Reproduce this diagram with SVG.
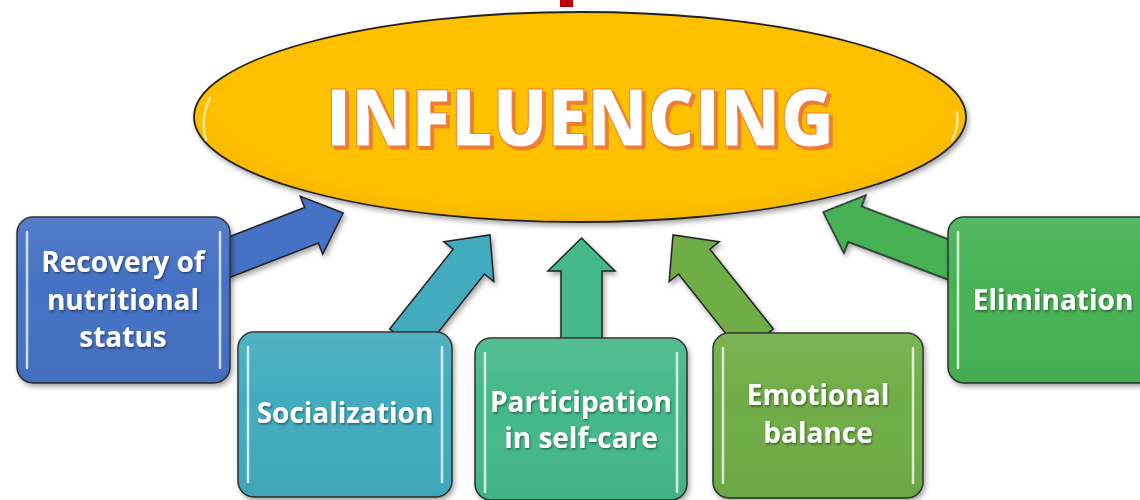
<svg xmlns="http://www.w3.org/2000/svg" width="1140" height="500" viewBox="0 0 1140 500">
  <defs>
    <filter id="sh" x="-10%" y="-10%" width="130%" height="130%">
      <feDropShadow dx="2" dy="3" stdDeviation="2.5" flood-color="#000" flood-opacity="0.35"/>
    </filter>
    <filter id="tsh" x="-10%" y="-20%" width="130%" height="150%">
      <feDropShadow dx="1" dy="1.5" stdDeviation="1" flood-color="#000" flood-opacity="0.45"/>
    </filter>
    <filter id="osh" x="-5%" y="-10%" width="115%" height="130%">
      <feDropShadow dx="3" dy="3" stdDeviation="0.6" flood-color="#ED7D31" flood-opacity="1"/>
    </filter>
    <linearGradient id="gloss" x1="0" y1="0" x2="0" y2="1">
      <stop offset="0" stop-color="#fff" stop-opacity="0.08"/>
      <stop offset="0.4" stop-color="#fff" stop-opacity="0"/>
      <stop offset="1" stop-color="#000" stop-opacity="0.04"/>
    </linearGradient>
    <radialGradient id="ellg" cx="0.5" cy="0.45" r="0.55">
      <stop offset="0.85" stop-color="#FFC000"/>
      <stop offset="1" stop-color="#F7B800"/>
    </radialGradient>
  </defs>
  <style>
    .box { stroke: #2b2b2b; stroke-width: 1.5; }
    .arr { stroke: #222; stroke-width: 1.5; stroke-linejoin: miter; }
    .hl { stroke: #ffffff; stroke-opacity: 0.75; stroke-width: 2.5; stroke-linecap: round; fill: none; }
    .lbl { font-family: "Open Sans", "Liberation Sans", sans-serif; font-weight: bold; font-size: 28px; fill: #ffffff; text-anchor: middle; }
    .title { font-family: "Open Sans", "Liberation Sans", sans-serif; font-weight: 800; font-size: 80px; text-anchor: middle; }
  </style>

  <rect x="0" y="0" width="1140" height="500" fill="#ffffff"/>

  <!-- small red mark at top -->
  <rect x="560" y="0" width="13" height="7" fill="#C00000"/>

  <!-- connectors -->
  <g id="connectors" filter="url(#sh)">
    <polygon class="arr" fill="#4472C4" points="0,-19 96,-19 96,-31 130,0 96,31 96,19 0,19" transform="translate(222,260) rotate(-21.2)"/>
    <polygon class="arr" fill="#43ACBE" points="0,-20 102,-20 102,-32 136,0 102,32 102,20 0,20" transform="translate(405.3,341.4) rotate(-51.5)"/>
    <polygon class="arr" fill="#45B98A" points="0,-20.5 79,-20.5 79,-33.5 112,0 79,33.5 79,20.5 0,20.5" transform="translate(581.5,350) rotate(-90)"/>
    <polygon class="arr" fill="#70AD47" points="0,-20 102,-20 102,-32 136,0 102,32 102,20 0,20" transform="translate(757.7,341.4) rotate(-128.5)"/>
    <polygon class="arr" fill="#47B254" points="0,-19 107,-19 107,-31 141,0 107,31 107,19 0,19" transform="translate(955,262) rotate(-159.3)"/>
  </g>

  <!-- central ellipse -->
  <g id="influencing">
    <ellipse cx="580" cy="117" rx="386" ry="105" fill="url(#ellg)" stroke="#222" stroke-width="1.8" filter="url(#sh)"/>
    <path d="M206,140 Q200,118 210,98" stroke="#FFF3B0" stroke-opacity="0.8" stroke-width="2.5" stroke-linecap="round" fill="none"/>
    <path d="M952,140 Q959,128 957,112" stroke="#FFF3B0" stroke-opacity="0.8" stroke-width="2.5" stroke-linecap="round" fill="none"/>
    <text class="title" x="580" y="146" fill="#ffffff" stroke="#ED7D31" stroke-width="1" textLength="508" lengthAdjust="spacingAndGlyphs" filter="url(#osh)">INFLUENCING</text>
  </g>

  <!-- nodes -->
  <g id="recovery">
    <rect class="box" x="17" y="217" width="213" height="166" rx="16" fill="#4472C4" filter="url(#sh)"/>
    <rect x="17" y="217" width="213" height="166" rx="16" fill="url(#gloss)"/>
    <line class="hl" x1="27" y1="232" x2="27" y2="368"/>
    <line class="hl" x1="220" y1="232" x2="220" y2="368"/>
    <g filter="url(#tsh)">
      <text class="lbl" x="123" y="272">Recovery of</text>
      <text class="lbl" x="123" y="310">nutritional</text>
      <text class="lbl" x="123" y="347">status</text>
    </g>
  </g>

  <g id="socialization">
    <rect class="box" x="238" y="332" width="214" height="165" rx="16" fill="#43ACBE" filter="url(#sh)"/>
    <rect x="238" y="332" width="214" height="165" rx="16" fill="url(#gloss)"/>
    <line class="hl" x1="248" y1="347" x2="248" y2="482"/>
    <line class="hl" x1="442" y1="347" x2="442" y2="482"/>
    <text class="lbl" x="345" y="423" filter="url(#tsh)">Socialization</text>
  </g>

  <g id="participation">
    <rect class="box" x="475" y="338" width="212" height="162" rx="16" fill="#45B98A" filter="url(#sh)"/>
    <rect x="475" y="338" width="212" height="162" rx="16" fill="url(#gloss)"/>
    <line class="hl" x1="485" y1="353" x2="485" y2="492"/>
    <line class="hl" x1="677" y1="353" x2="677" y2="492"/>
    <g filter="url(#tsh)">
      <text class="lbl" x="581" y="412">Participation</text>
      <text class="lbl" x="581" y="448">in self-care</text>
    </g>
  </g>

  <g id="emotional">
    <rect class="box" x="713" y="333" width="210" height="165" rx="16" fill="#70AD47" filter="url(#sh)"/>
    <rect x="713" y="333" width="210" height="165" rx="16" fill="url(#gloss)"/>
    <line class="hl" x1="723" y1="348" x2="723" y2="483"/>
    <line class="hl" x1="913" y1="348" x2="913" y2="483"/>
    <g filter="url(#tsh)">
      <text class="lbl" x="818" y="405">Emotional</text>
      <text class="lbl" x="818" y="443">balance</text>
    </g>
  </g>

  <g id="elimination">
    <rect class="box" x="948" y="217" width="215" height="166" rx="16" fill="#47B254" filter="url(#sh)"/>
    <rect x="948" y="217" width="215" height="166" rx="16" fill="url(#gloss)"/>
    <line class="hl" x1="958" y1="232" x2="958" y2="368"/>
    <text class="lbl" x="1053" y="310" filter="url(#tsh)">Elimination</text>
  </g>
</svg>
